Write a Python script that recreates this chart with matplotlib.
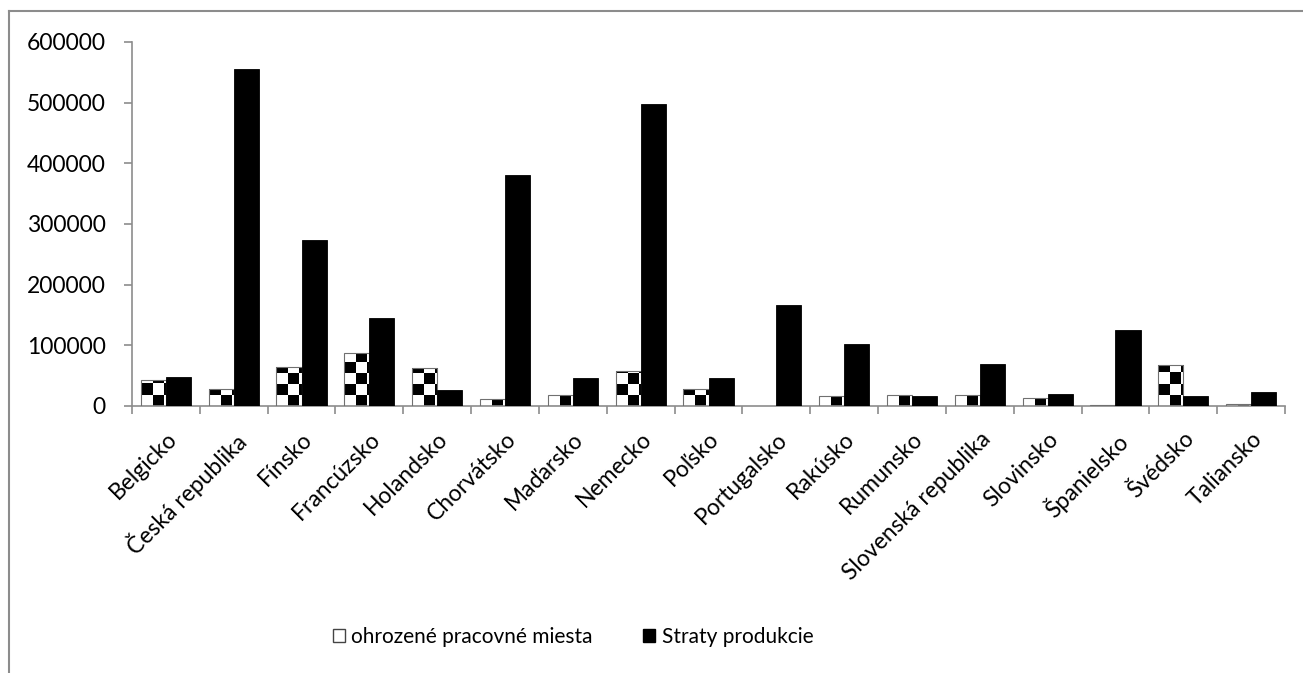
import numpy as np
import matplotlib
matplotlib.use("Agg")
import matplotlib.pyplot as plt
from matplotlib.patches import Rectangle
from matplotlib.lines import Line2D

plt.rcParams['font.family'] = ['Lato', 'DejaVu Sans']

categories = ["Belgicko", "Česká republika", "Fínsko", "Francúzsko", "Holandsko",
              "Chorvátsko", "Maďarsko", "Nemecko", "Poľsko", "Portugalsko", "Rakúsko",
              "Rumunsko", "Slovenská republika", "Slovinsko", "Španielsko", "Švédsko",
              "Taliansko"]
ohrozene = [43000, 28000, 65000, 88000, 63000, 11000, 18600, 58000, 28000, 0,
            16000, 18600, 18600, 12700, 2000, 67600, 3000]
straty = [47000, 555000, 273000, 145000, 27000, 380000, 45600, 498000, 45600, 167000,
          101700, 16500, 68700, 19800, 125000, 16500, 23000]
yticks = [0, 100000, 200000, 300000, 400000, 500000, 600000]
series_names = ["ohrozené pracovné miesta", "Straty produkcie"]

W, H = 1303, 673
fig = plt.figure(figsize=(W / 100, H / 100), dpi=100)
ax = fig.add_axes([132 / W, 1 - 406 / H, (1285 - 132) / W, (406 - 42) / H])

n = len(categories)
x = np.arange(n)
bw = 0.37
ax.set_xlim(-0.5, n - 0.5)
ax.set_ylim(0, 600000)

# checkered bars
sq_x = 0.165
sq_y = 18000
for xi, v in zip(x, ohrozene):
    if v <= 0:
        continue
    x0 = xi - bw
    rect = ax.bar(x0, v, width=bw, align='edge', color='white', edgecolor='none',
                  linewidth=0, zorder=2)[0]
    ncol = int(np.ceil(bw / sq_x))
    nrow = int(np.ceil(v / sq_y))
    board = (np.add.outer(np.arange(nrow), np.arange(ncol)) % 2).astype(float)
    im = ax.imshow(board, cmap='gray_r', origin='lower', aspect='auto',
                   extent=(x0, x0 + ncol * sq_x, 0, nrow * sq_y),
                   interpolation='nearest', zorder=2.5, vmin=0, vmax=1)
    im.set_clip_path(rect)
    ax.bar(x0, v, width=bw, align='edge', color='none', edgecolor='#707070',
           linewidth=0.8, zorder=2.6)

ax.bar(x, straty, width=bw, align='edge', color='black', edgecolor='black',
       linewidth=0.6, zorder=3)
ax.set_xlim(-0.5, n - 0.5)
ax.set_ylim(0, 600000)

for s in ['top', 'right']:
    ax.spines[s].set_visible(False)
for s in ['left', 'bottom']:
    ax.spines[s].set_color('#8c8c8c')
    ax.spines[s].set_linewidth(1.2)

fs = 16.5
ax.set_yticks(yticks)
ax.set_yticklabels([str(t) for t in yticks], fontsize=fs)
ax.tick_params(axis='y', length=6, color='#8c8c8c', width=1.2, pad=13)

ax.set_xticks(x)
ax.set_xticklabels(categories, rotation=45, ha='right', rotation_mode='anchor', fontsize=fs)
ax.set_xticks(np.arange(n + 1) - 0.5, minor=True)
ax.tick_params(axis='x', which='major', length=0, pad=16)
ax.tick_params(axis='x', which='minor', length=6, color='#8c8c8c', width=1.2)

handles = [Rectangle((0, 0), 1, 1, facecolor='white', edgecolor='#444444', linewidth=1),
           Rectangle((0, 0), 1, 1, facecolor='black', edgecolor='black')]
fig.legend(handles, series_names, loc='center', bbox_to_anchor=(573 / W, 1 - 637 / H),
           ncol=2, frameon=False, fontsize=15, handlelength=0.6, handleheight=0.6,
           handletextpad=0.3, columnspacing=2.4)

# outer chart border
fig.add_artist(Line2D([9 / W, 9 / W], [0, 1 - 11 / H], color='#8c8c8c', linewidth=1.5,
                      transform=fig.transFigure))
fig.add_artist(Line2D([9 / W, 1], [1 - 11 / H, 1 - 11 / H], color='#8c8c8c', linewidth=1.5,
                      transform=fig.transFigure))

fig.savefig("out.png", dpi=100, facecolor='white')
